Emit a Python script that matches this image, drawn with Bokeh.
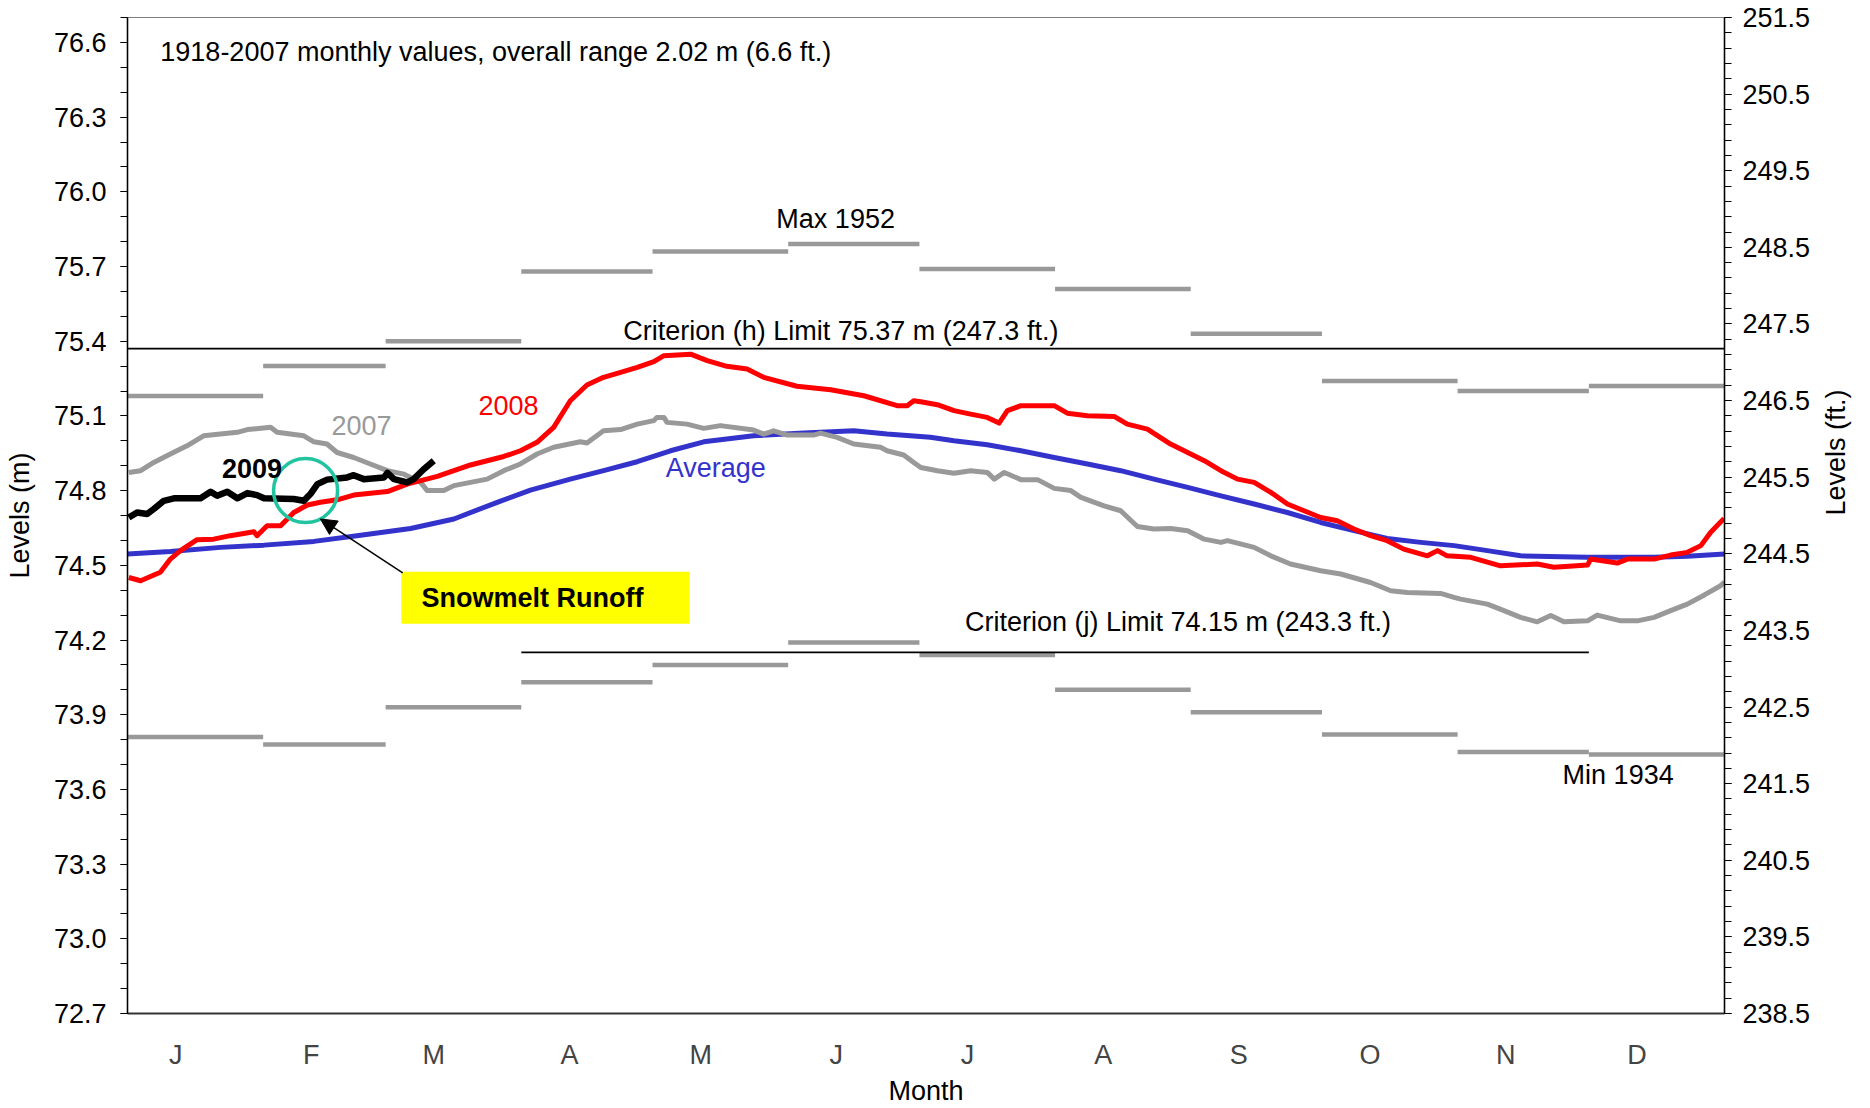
import math
from bokeh.plotting import figure
from bokeh.models import (Range1d, LinearAxis, FixedTicker, PrintfTickFormatter,
                          Label, BoxAnnotation, Arrow, NormalHead, Span)
from bokeh.embed import file_html
from bokeh.resources import INLINE

# ---------------- data ----------------
months = ["J", "F", "M", "A", "M", "J", "J", "A", "S", "O", "N", "D"]
month_len = [31, 28, 31, 30, 31, 30, 31, 31, 30, 31, 30, 31]

# 1918-2007 monthly extremes (m)
max_lvl = [75.18, 75.30, 75.40, 75.68, 75.76, 75.79, 75.69, 75.61, 75.43, 75.24, 75.20, 75.22]
min_lvl = [73.81, 73.78, 73.93, 74.03, 74.10, 74.19, 74.14, 74.00, 73.91, 73.82, 73.75, 73.74]

crit_h = 75.37
crit_j = 74.15

avg_day = [0, 9.8, 21.3, 31.2, 42.6, 53.3, 64.7, 74.6, 84.5, 92.1, 101.2, 108.8, 116.5, 124.1,
           131.7, 143.1, 154.6, 166, 173.6, 183.5, 188.9, 196.5, 204.2, 211.8, 219.4, 227,
           234.6, 242.3, 249.9, 257.5, 265.1, 272.7, 280.3, 287.9, 295.6, 303.2, 310.8, 318.4,
           333.7, 348.9, 356.5, 365]
avg_lvl = [74.545, 74.555, 74.572, 74.581, 74.596, 74.621, 74.648, 74.686, 74.753, 74.802,
           74.846, 74.880, 74.916, 74.960, 74.996, 75.020, 75.031, 75.040, 75.027, 75.014,
           75.000, 74.984, 74.960, 74.933, 74.907, 74.880, 74.846, 74.813, 74.779, 74.746,
           74.712, 74.672, 74.639, 74.608, 74.592, 74.579, 74.559, 74.538, 74.532, 74.532,
           74.536, 74.545]

y2008_day = [0.3, 3.0, 7.5, 9.8, 12.1, 15.9, 19.7, 23.5, 28.9, 29.6, 31.9, 35.0, 38.0, 41.1,
             44.1, 47.9, 51.7, 59.4, 63.9, 70.8, 78.4, 86.0, 89.8, 93.6, 97.4, 101.2, 105.0,
             108.8, 112.7, 116.5, 120.3, 122.6, 128.7, 132.5, 137.0, 141.6, 145.4, 153.0,
             160.7, 168.3, 175.9, 178.2, 179.7, 181.3, 185.1, 188.9, 192.7, 196.5, 199.2,
             201.1, 204.2, 211.8, 214.8, 219.4, 225.5, 228.5, 233.1, 238.4, 242.3, 246.1,
             249.9, 253.7, 257.5, 261.3, 265.1, 268.9, 272.7, 276.5, 280.3, 284.1, 287.9,
             291.7, 297.1, 299.4, 301.6, 307.0, 313.8, 322.2, 326.0, 333.7, 334.4, 340.5,
             342.8, 348.9, 352.7, 356.5, 359.6, 361.8, 364.9]
y2008_lvl = [74.451, 74.438, 74.472, 74.525, 74.559, 74.603, 74.605, 74.619, 74.635, 74.619,
             74.659, 74.659, 74.712, 74.742, 74.753, 74.763, 74.782, 74.796, 74.826, 74.857,
             74.903, 74.937, 74.960, 74.994, 75.054, 75.161, 75.224, 75.255, 75.275, 75.295,
             75.318, 75.342, 75.348, 75.322, 75.299, 75.288, 75.255, 75.219, 75.205, 75.181,
             75.141, 75.141, 75.161, 75.157, 75.145, 75.121, 75.107, 75.094, 75.071, 75.121,
             75.141, 75.141, 75.111, 75.101, 75.098, 75.067, 75.047, 74.987, 74.953, 74.920,
             74.880, 74.846, 74.833, 74.793, 74.746, 74.719, 74.692, 74.679, 74.646, 74.619,
             74.599, 74.565, 74.538, 74.559, 74.538, 74.532, 74.498, 74.505, 74.492, 74.501,
             74.525, 74.509, 74.525, 74.525, 74.541, 74.552, 74.579, 74.632, 74.688]

y2007_day = [0.3, 3.0, 6.0, 9.8, 13.6, 17.4, 25.1, 27.4, 32.7, 34.2, 40.3, 42.6, 45.6, 47.9,
             51.7, 55.5, 59.4, 63.2, 67.0, 68.5, 72.3, 74.6, 82.2, 86.0, 89.8, 93.6, 97.4,
             103.5, 105.0, 108.8, 112.7, 116.5, 120.3, 121.0, 122.6, 123.3, 127.9, 131.7,
             135.5, 143.1, 145.4, 147.7, 150.8, 156.8, 158.4, 162.2, 166.0, 172.1, 173.6,
             177.4, 179.7, 181.3, 185.1, 188.9, 192.7, 196.5, 198.1, 200.4, 204.2, 208.0,
             211.8, 215.6, 217.9, 223.2, 227.0, 230.8, 234.6, 238.4, 242.3, 246.1, 249.9,
             251.4, 257.5, 261.3, 265.8, 272.7, 277.3, 284.1, 288.7, 292.5, 300.1, 303.2,
             304.7, 310.8, 314.6, 318.4, 322.2, 325.3, 328.3, 333.7, 335.9, 341.3, 345.1,
             348.9, 352.7, 356.5, 360.3, 364.1, 365.0]
y2007_lvl = [74.873, 74.880, 74.913, 74.947, 74.980, 75.020, 75.034, 75.045, 75.054, 75.034,
             75.020, 74.996, 74.987, 74.953, 74.933, 74.907, 74.880, 74.866, 74.833, 74.800,
             74.800, 74.820, 74.846, 74.880, 74.907, 74.947, 74.974, 74.996, 74.991, 75.040,
             75.045, 75.067, 75.081, 75.094, 75.094, 75.074, 75.067, 75.050, 75.061, 75.043,
             75.027, 75.040, 75.023, 75.023, 75.031, 75.014, 74.987, 74.974, 74.960, 74.943,
             74.913, 74.893, 74.880, 74.870, 74.880, 74.873, 74.846, 74.873, 74.844, 74.844,
             74.809, 74.800, 74.773, 74.739, 74.719, 74.656, 74.646, 74.648, 74.639, 74.605,
             74.592, 74.599, 74.572, 74.538, 74.505, 74.478, 74.465, 74.431, 74.398, 74.391,
             74.387, 74.371, 74.364, 74.344, 74.318, 74.291, 74.273, 74.298, 74.273, 74.277,
             74.300, 74.277, 74.277, 74.291, 74.318, 74.344, 74.380, 74.418, 74.432]

y2009_day = [0.3, 2.2, 4.5, 6.0, 8.3, 10.6, 16.7, 19.0, 20.5, 22.8, 25.1, 27.4, 29.6, 31.2,
             38.0, 40.3, 41.8, 43.4, 45.6, 50.2, 51.7, 54.0, 58.6, 59.4, 60.9, 63.9, 65.4,
             67.7, 70.0]
y2009_lvl = [74.692, 74.712, 74.706, 74.726, 74.759, 74.769, 74.769, 74.795, 74.779, 74.795,
             74.769, 74.790, 74.782, 74.769, 74.766, 74.759, 74.786, 74.826, 74.844, 74.853,
             74.862, 74.846, 74.853, 74.871, 74.846, 74.833, 74.846, 74.886, 74.920]

# ---------------- figure ----------------
FONT = "Liberation Sans"
FS = "27px"

month_start = [sum(month_len[:i]) for i in range(12)]
month_end = [sum(month_len[:i + 1]) for i in range(12)]

p = figure(width=1870, height=1108, x_range=Range1d(0, 365), y_range=Range1d(72.7, 76.7),
           output_backend="svg", toolbar_location=None,
           min_border_left=127, min_border_right=146, min_border_top=17, min_border_bottom=95)
p.xgrid.visible = False
p.ygrid.visible = False
p.outline_line_color = "#808080"
p.outline_line_width = 1.2
p.background_fill_color = "white"
p.border_fill_color = "white"

# left axis (m)
ya = p.yaxis[0]
ya.ticker = FixedTicker(ticks=[round(72.7 + 0.3 * i, 1) for i in range(14)],
                        minor_ticks=[round(72.7 + 0.1 * i, 1) for i in range(41)])
ya.formatter = PrintfTickFormatter(format="%.1f")
ya.axis_label = "Levels (m)"

# right axis (ft)
p.extra_y_ranges = {"ft": Range1d(238.5, 251.5)}
ra = LinearAxis(y_range_name="ft",
                ticker=FixedTicker(ticks=[238.5 + i for i in range(14)],
                                   minor_ticks=[round(238.5 + 0.2 * i, 1) for i in range(66)]),
                formatter=PrintfTickFormatter(format="%.1f"),
                axis_label="Levels (ft.)")
p.add_layout(ra, "right")
try:
    ra.axis_label_orientation = math.pi / 2
except Exception:
    pass

for ax in [ya, ra]:
    ax.axis_line_color = "black"
    ax.axis_line_width = 1.5
    ax.major_tick_in = 0
    ax.major_tick_out = 7
    ax.minor_tick_in = 0
    ax.minor_tick_out = 7
    ax.major_tick_line_color = "black"
    ax.minor_tick_line_color = "black"
    ax.major_tick_line_width = 1.2
    ax.minor_tick_line_width = 1.2
    ax.major_label_text_font = FONT
    ax.major_label_text_font_size = FS
    ax.major_label_text_color = "black"
    ax.axis_label_text_font = FONT
    ax.axis_label_text_font_size = FS
    ax.axis_label_text_font_style = "normal"
    ax.axis_label_text_color = "black"
ya.major_label_standoff = 14
ya.axis_label_standoff = 16
ra.major_label_standoff = 11
ra.axis_label_standoff = 23

# bottom axis (months)
xa = p.xaxis[0]
tick_pos = [s + 11 for s in month_start]
xa.ticker = FixedTicker(ticks=tick_pos, minor_ticks=[])
xa.major_label_overrides = {t: m for t, m in zip(tick_pos, months)}
xa.major_tick_out = 0
xa.major_tick_in = 0
xa.minor_tick_out = 0
xa.minor_tick_in = 0
xa.axis_line_color = "#333333"
xa.axis_line_width = 2
xa.major_label_text_font = FONT
xa.major_label_text_font_size = FS
xa.major_label_standoff = 26
xa.axis_label = "Month"
xa.axis_label_text_font = FONT
xa.axis_label_text_font_size = FS
xa.axis_label_text_font_style = "normal"
xa.axis_label_text_color = "black"
xa.axis_label_standoff = 3

# monthly max / min bars
p.segment(x0=month_start, x1=month_end, y0=max_lvl, y1=max_lvl,
          line_color="#999999", line_width=4.5, line_cap="butt")
p.segment(x0=month_start, x1=month_end, y0=min_lvl, y1=min_lvl,
          line_color="#999999", line_width=4.5, line_cap="butt")

# criterion lines
p.add_layout(Span(location=crit_h, dimension="width", line_color="black", line_width=1.7))
p.segment(x0=[month_start[3]], x1=[month_end[10]], y0=[crit_j], y1=[crit_j],
          line_color="black", line_width=1.7)

# series
p.line(avg_day, avg_lvl, line_color="#3333CC", line_width=5, line_join="round")
p.line(y2007_day, y2007_lvl, line_color="#999999", line_width=5, line_join="round")
p.line(y2008_day, y2008_lvl, line_color="#FF0000", line_width=5, line_join="round")
p.line(y2009_day, y2009_lvl, line_color="black", line_width=6.5, line_join="round")

# snowmelt annotation
p.add_layout(BoxAnnotation(left=62.6, right=128.5, bottom=74.265, top=74.474,
                           fill_color="#FFFF00", fill_alpha=1.0, line_color=None))
p.scatter([40.7], [74.80], marker="circle", size=64, fill_color=None,
          line_color="#22C4A0", line_width=3.5)
p.add_layout(Arrow(end=NormalHead(size=16, fill_color="black", line_color="black"),
                   x_start=62.9, y_start=74.470, x_end=44.1, y_end=74.686,
                   line_color="black", line_width=1.5))


def lab(x, y, text, color="black", bold=False, align="left"):
    p.add_layout(Label(x=x, y=y, text=text, text_font=FONT, text_font_size=FS,
                       text_color=color, text_baseline="middle", text_align=align,
                       text_font_style="bold" if bold else "normal"))


lab(7.5, 76.563, "1918-2007 monthly values, overall range 2.02 m (6.6 ft.)")
lab(148.3, 75.891, "Max 1952")
lab(113.3, 75.441, "Criterion (h) Limit 75.37 m (247.3 ft.)")
lab(191.4, 74.271, "Criterion (j) Limit 74.15 m (243.3 ft.)")
lab(328.0, 73.656, "Min 1934")
lab(123.0, 74.889, "Average", color="#3333CC")
lab(46.6, 75.063, "2007", color="#999999")
lab(80.2, 75.141, "2008", color="#FF0000")
lab(21.6, 74.887, "2009", bold=True)
lab(67.2, 74.370, "Snowmelt Runoff", bold=True)

open("out.html", "w").write(file_html(p, INLINE))
